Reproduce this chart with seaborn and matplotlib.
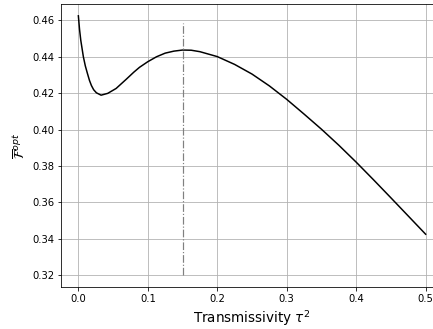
import numpy as np
import pandas as pd
import seaborn as sns
import matplotlib
matplotlib.use("Agg")
import matplotlib.pyplot as plt

# values
tau2 = [0.0, 0.0017, 0.0035, 0.0072, 0.010, 0.013, 0.016, 0.0188, 0.022, 0.026, 0.0327,
        0.0423, 0.0544, 0.0688, 0.08, 0.088, 0.1, 0.1125, 0.125, 0.1375, 0.15,
        0.1625, 0.175, 0.2, 0.225, 0.25, 0.275, 0.3, 0.325, 0.35, 0.375, 0.4,
        0.425, 0.45, 0.475, 0.5]
f_opt = [0.4625, 0.4550, 0.4490, 0.4400, 0.4350, 0.4309, 0.4270, 0.4242, 0.4219, 0.4202, 0.4189,
         0.4199, 0.4226, 0.4276, 0.4316, 0.4342, 0.4373, 0.4400, 0.4420, 0.4431, 0.4437,
         0.4436, 0.4428, 0.4401, 0.4358, 0.4305, 0.4240, 0.4166, 0.4085, 0.4002, 0.3914, 0.3821,
         0.3724, 0.3625, 0.3525, 0.3425]
vline_x = 0.15
vline_y = [0.32, 0.4585]

df = pd.DataFrame({"tau2": tau2, "F": f_opt})

plt.rcParams["font.family"] = "DejaVu Sans"
plt.rcParams["mathtext.fontset"] = "dejavusans"
fig = plt.figure(figsize=(433 / 72, 329 / 72), dpi=72)
ax = fig.add_axes([61 / 433, 1 - 287 / 329, 382 / 433, 283 / 329])

sns.lineplot(data=df, x="tau2", y="F", color="black", lw=1.5, ax=ax)
ax.vlines(vline_x, vline_y[0], vline_y[1], colors="gray", linestyles="-.", lw=1.2)

ax.set_xlim(-0.025, 0.525)
ax.set_ylim(0.3135, 0.469)
ax.set_xticks([0.0, 0.1, 0.2, 0.3, 0.4, 0.5])
ax.set_yticks([0.32, 0.34, 0.36, 0.38, 0.40, 0.42, 0.44, 0.46])
ax.set_yticklabels(["0.32", "0.34", "0.36", "0.38", "0.40", "0.42", "0.44", "0.46"])
ax.tick_params(labelsize=10, length=3.5)
ax.grid(True, color="#b0b0b0", lw=0.8)
ax.set_axisbelow(True)
ax.set_xlabel(r"Transmissivity $\tau^2$", fontsize=13.5)
ax.set_ylabel(r"$\overline{\mathcal{F}}^{opt}$", fontsize=13.5)

fig.savefig("out.png", dpi=72)
